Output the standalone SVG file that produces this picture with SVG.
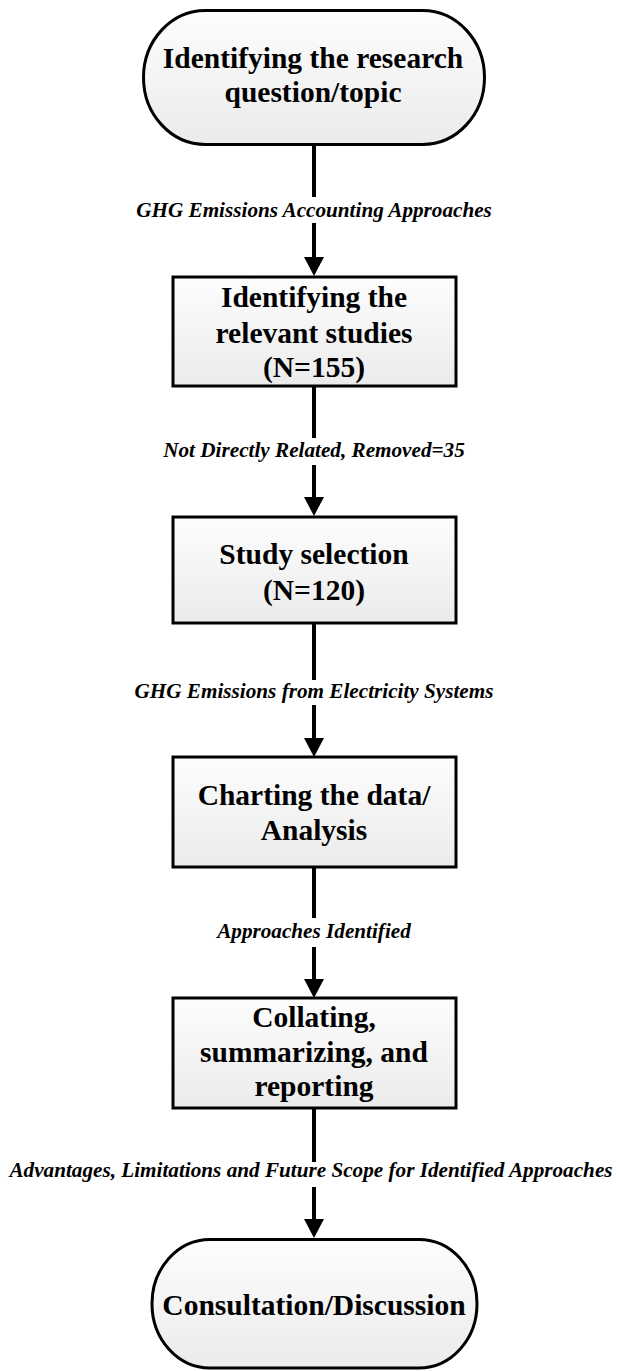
<svg xmlns="http://www.w3.org/2000/svg" width="617" height="1371" viewBox="0 0 617 1371">
<style>
.node{fill:url(#g);stroke:#000;stroke-width:3}
.t{font-family:"Liberation Serif","Times New Roman",serif;font-weight:bold;font-size:29.5px;text-anchor:middle;fill:#000}
.lbl{font-family:"Liberation Serif","Times New Roman",serif;font-weight:bold;font-style:italic;font-size:21.2px;text-anchor:middle;fill:#000}
.ln{stroke:#000;stroke-width:4;fill:none}
.ah{fill:#000}
</style>
<defs>
<linearGradient id="g" x1="0" y1="0" x2="0" y2="1">
<stop offset="0" stop-color="#fdfdfd"/>
<stop offset="1" stop-color="#ebebeb"/>
</linearGradient>
</defs>
<rect width="617" height="1371" fill="#fff"/>
<g id="connectors">
<line class="ln" x1="314" y1="145" x2="314" y2="197"/>
<line class="ln" x1="314" y1="223" x2="314" y2="260"/>
<polygon class="ah" points="304,257 324,257 314,276"/>
<text class="lbl" x="314" y="217">GHG Emissions Accounting Approaches</text>
<line class="ln" x1="314" y1="386" x2="314" y2="438"/>
<line class="ln" x1="314" y1="465" x2="314" y2="500"/>
<polygon class="ah" points="304,497 324,497 314,516"/>
<text class="lbl" x="314" y="457">Not Directly Related, Removed=35</text>
<line class="ln" x1="314" y1="623" x2="314" y2="680"/>
<line class="ln" x1="314" y1="705" x2="314" y2="741"/>
<polygon class="ah" points="304,738 324,738 314,757"/>
<text class="lbl" x="314" y="698">GHG Emissions from Electricity Systems</text>
<line class="ln" x1="314" y1="867" x2="314" y2="918"/>
<line class="ln" x1="314" y1="947" x2="314" y2="982"/>
<polygon class="ah" points="304,979 324,979 314,998"/>
<text class="lbl" x="314" y="938">Approaches Identified</text>
<line class="ln" x1="314" y1="1108" x2="314" y2="1162"/>
<line class="ln" x1="314" y1="1187" x2="314" y2="1222"/>
<polygon class="ah" points="304,1219 324,1219 314,1238"/>
<text class="lbl" x="311" y="1177">Advantages, Limitations and Future Scope for Identified Approaches</text>
</g>
<g id="n1">
<rect class="node" x="143.5" y="10.5" width="341" height="134" rx="62" ry="67"/>
<text class="t" x="313" y="68">Identifying the research</text>
<text class="t" x="313" y="102">question/topic</text>
</g>
<g id="n2">
<rect class="node" x="173" y="277" width="283" height="109"/>
<text class="t" x="314" y="307">Identifying the</text>
<text class="t" x="314" y="343">relevant studies</text>
<text class="t" x="314" y="377">(N=155)</text>
</g>
<g id="n3">
<rect class="node" x="173" y="517" width="283" height="106"/>
<text class="t" x="314" y="564">Study selection</text>
<text class="t" x="314" y="600">(N=120)</text>
</g>
<g id="n4">
<rect class="node" x="173" y="757" width="283" height="110"/>
<text class="t" x="314" y="805">Charting the data/</text>
<text class="t" x="314" y="840">Analysis</text>
</g>
<g id="n5">
<rect class="node" x="173" y="998" width="283" height="110"/>
<text class="t" x="314" y="1027">Collating,</text>
<text class="t" x="314" y="1062">summarizing, and</text>
<text class="t" x="314" y="1096">reporting</text>
</g>
<g id="n6">
<rect class="node" x="152" y="1239.5" width="325" height="128.5" rx="58" ry="64"/>
<text class="t" x="314" y="1315">Consultation/Discussion</text>
</g>
</svg>
